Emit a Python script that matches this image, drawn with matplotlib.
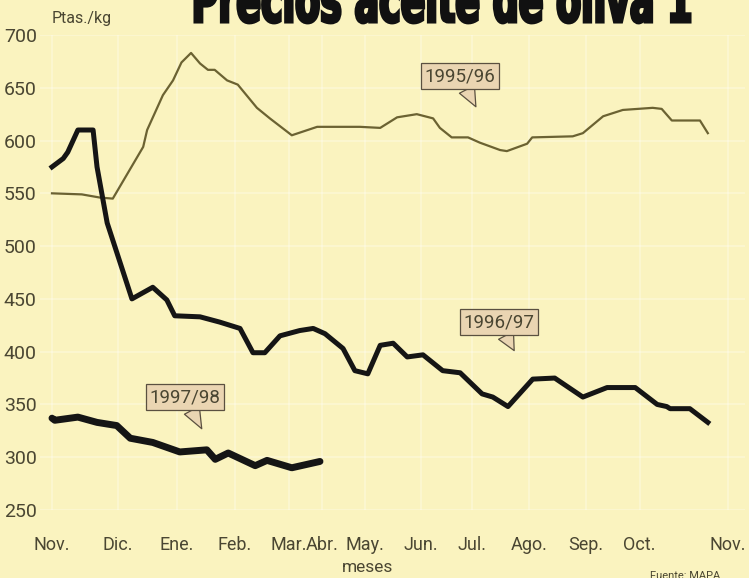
import matplotlib
matplotlib.use("Agg")
import matplotlib.pyplot as plt
from matplotlib.textpath import TextPath
from matplotlib.patches import PathPatch
from matplotlib.font_manager import FontProperties
from matplotlib.transforms import Affine2D, IdentityTransform

# Meses (0 = Nov.) y precios en Ptas./kg
x_9596 = [0.0, 0.53, 0.85, 1.08, 1.62, 1.69, 1.97, 2.15, 2.30, 2.47, 2.63, 2.77, 2.89, 3.11, 3.30, 3.64, 3.87, 4.26, 4.71, 5.47,
          5.83, 6.13, 6.48, 6.77, 6.89, 7.10, 7.39, 7.60, 7.96, 8.08, 8.44, 8.53, 9.25, 9.43, 9.79, 10.14, 10.67, 10.83, 11.01,
          11.51, 11.65]
y_9596 = [550, 549, 546, 545, 594, 610, 643, 657, 674, 683, 673, 667, 667, 657, 653, 631, 621, 605, 613, 613,
          612, 622, 625, 621, 612, 603, 603, 598, 591, 590, 597, 603, 604, 607, 623, 629, 631, 630, 619,
          619, 607]

x_9697 = [0.0, 0.20, 0.28, 0.46, 0.73, 0.80, 0.98, 1.42, 1.79, 2.04, 2.18, 2.63, 2.98, 3.34, 3.57, 3.78, 4.05, 4.40, 4.64,
          4.85, 5.17, 5.38, 5.61, 5.83, 6.06, 6.31, 6.59, 6.94, 7.25, 7.64, 7.83, 8.10, 8.54, 8.93, 9.43, 9.86, 10.36,
          10.75, 10.92, 10.98, 11.33, 11.65]
y_9697 = [575, 583, 589, 610, 610, 575, 522, 450, 461, 449, 434, 433, 428, 422, 399, 399, 415, 420, 422,
          417, 403, 382, 379, 406, 408, 395, 397, 382, 380, 360, 357, 348, 374, 375, 357, 366, 366,
          350, 348, 346, 346, 333]

x_9798 = [0.0, 0.05, 0.46, 0.80, 1.15, 1.39, 1.79, 2.27, 2.75, 2.90, 3.13, 3.61, 3.82, 4.26, 4.76]
y_9798 = [337, 335, 338, 333, 330, 318, 314, 305, 307, 298, 304, 292, 297, 290, 296]

meses = ["Nov.", "Dic.", "Ene.", "Feb.", "Mar.", "Abr.", "May.", "Jun.", "Jul.", "Ago.", "Sep.", "Oct.", "Nov."]
pos_meses = [0, 1.17, 2.22, 3.25, 4.21, 4.80, 5.56, 6.55, 7.46, 8.47, 9.48, 10.44, 12.0]
yticks = [250, 300, 350, 400, 450, 500, 550, 600, 650, 700]

# etiquetas: (texto, punta, centro de la caja)
etiquetas = [("1995/96", (7.53, 632), (7.25, 661)),
             ("1996/97", (8.21, 401), (7.94, 428)),
             ("1997/98", (2.66, 327), (2.36, 357))]

fondo = "#faf3bf"
texto = "#4a4632"
fuente = "Roboto"

fig = plt.figure(figsize=(7.49, 5.78), dpi=100)
fig.patch.set_facecolor(fondo)
ax = fig.add_axes([40 / 749, 1 - 510 / 578, 705 / 749, 475 / 578])
ax.set_facecolor(fondo)

ax.plot(x_9596, y_9596, color="#6b6232", lw=1.6, solid_joinstyle="round")
ax.plot(x_9697, y_9697, color="#151515", lw=3.6, solid_joinstyle="round")
ax.plot(x_9798, y_9798, color="#151515", lw=5.0, solid_joinstyle="round", solid_capstyle="round")

ax.set_xlim(-0.213, 12.31)
ax.set_ylim(250, 700)
ax.set_xticks(pos_meses)
ax.set_xticklabels(meses)
ax.set_yticks(yticks)
ax.set_yticklabels([str(v) for v in yticks])
for s in ax.spines.values():
    s.set_visible(False)
ax.tick_params(axis="both", length=0, labelcolor=texto)
ax.tick_params(axis="x", pad=19, labelsize=13)
ax.tick_params(axis="y", pad=26, labelsize=14)
for lab in ax.get_yticklabels() + ax.get_xticklabels():
    lab.set_family(fuente)
for lab in ax.get_yticklabels():
    lab.set_ha("left")
ax.grid(True, color="white", alpha=0.25, lw=1.5)
ax.set_axisbelow(True)

caja = dict(boxstyle="square,pad=0.2", fc="#ead5b2", ec="#5a5040", lw=0.9)
flecha = dict(arrowstyle="wedge,tail_width=0.9,shrink_factor=0.5", fc="#ead5b2", ec="#5a5040", lw=0.9,
              shrinkA=0, shrinkB=0)
for txt, punta, centro in etiquetas:
    ax.annotate(txt, xy=punta, xytext=centro, ha="center", va="center", fontsize=13.5,
                family=fuente, color=texto, bbox=caja, arrowprops=flecha)

fig.text(52 / 749, 1 - 18 / 578, "Ptas./kg", fontsize=11.5, family=fuente, color=texto, va="center")
fig.text(368 / 749, 1 - 568 / 578, "meses", fontsize=12.5, family=fuente, color=texto, ha="center", va="center")
fig.text(650 / 749, 1 - 576 / 578, "Fuente: MAPA", fontsize=8, family=fuente, color=texto, va="center")

# titulo: texto condensado y cortado por arriba
tp = TextPath((0, 0), "Precios aceite de oliva 1", size=100,
              prop=FontProperties(family="DejaVu Sans", weight="bold"))
ext = tp.get_extents()
sx = 495 / ext.width
sy = 46 / 73
tr = Affine2D().translate(-ext.x0, 0).scale(sx, sy).translate(195, 578 - 22)
fig.add_artist(PathPatch(tp, transform=tr + IdentityTransform(), fc="#111111", ec="#111111", lw=2.2))

fig.savefig("out.png", dpi=100, facecolor=fondo)
